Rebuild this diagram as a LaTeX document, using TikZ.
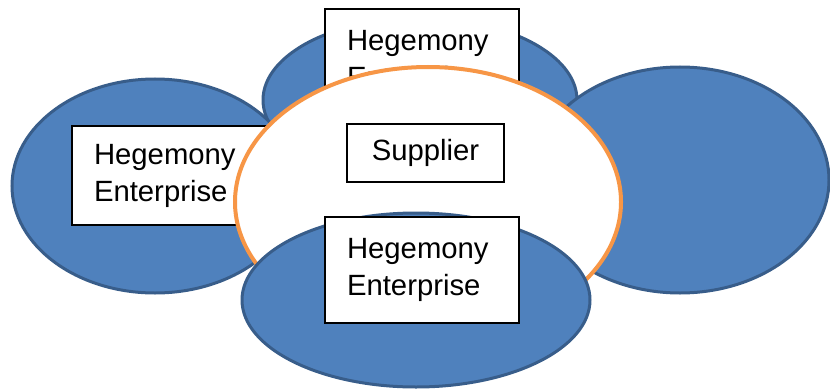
\documentclass[tikz,border=0pt]{standalone}
\usepackage{fontspec}
\setmainfont{Liberation Sans}
\definecolor{blobfill}{HTML}{4F81BD}
\definecolor{blobline}{HTML}{385D8A}
\definecolor{ringline}{HTML}{F79646}
\begin{document}
\begin{tikzpicture}[x=0.3mm,y=-0.3mm,
        blob/.style={fill=blobfill,draw=blobline,line width=0.9mm},
        firm/.style={draw,fill=white,line width=0.6mm,anchor=north west,minimum width=58.2mm,minimum height=31.8mm,inner xsep=6.6mm,text width=45mm,align=left,font=\fontsize{25}{31.6}\selectfont}]
        \useasboundingbox (0,0) rectangle (830,389);
        %% enterprise ellipses
        \draw[blob] (420,100) ellipse [x radius=157, y radius=82];
        \draw[blob] (155,186) ellipse [x radius=143, y radius=107];
        \draw[blob] (680,180) ellipse [x radius=149, y radius=113];
        %% boxes behind the ring
        \node[firm] (topfirm) at (324,8) {Hegemony\\Enterprise};
        \node[firm,minimum height=29.7mm] (leftfirm) at (71,125) {Hegemony\\Enterprise};
        %% supplier ring
        \draw[fill=white,draw=ringline,line width=1.2mm] (428,202) ellipse [x radius=193, y radius=135];
        \node[draw,fill=white,line width=0.6mm,minimum width=47.1mm,minimum height=17.4mm,font=\fontsize{25}{31.6}\selectfont] (supplier) at (425.5,153) {Supplier};
        %% front enterprise
        \draw[blob] (416,300) ellipse [x radius=174, y radius=87];
        \node[firm] (bottomfirm) at (324,216) {Hegemony\\Enterprise};
    \end{tikzpicture}
\end{document}
